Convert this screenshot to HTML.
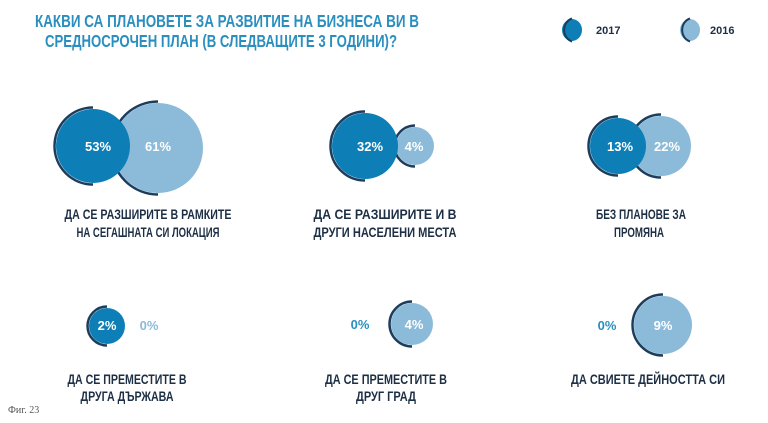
<!DOCTYPE html>
<html><head><meta charset="utf-8"><style>
html,body{margin:0;padding:0;background:#fff;}
svg{display:block;}
text{font-family:"Liberation Sans Narrow","Liberation Sans","DejaVu Sans Condensed",sans-serif;font-weight:bold;}
.v{fill:#fff;font-size:13px;text-anchor:middle;}
.l{fill:#1d2f45;font-size:13.5px;text-anchor:middle;}
</style></head><body>
<svg width="768" height="423" viewBox="0 0 768 423" xmlns="http://www.w3.org/2000/svg">
<g fill="#2a8fbf" font-size="17.5" text-anchor="middle">
<text x="227" y="27" textLength="384" lengthAdjust="spacingAndGlyphs">КАКВИ СА ПЛАНОВЕТЕ ЗА РАЗВИТИЕ НА БИЗНЕСА ВИ В</text>
<text x="221" y="47" textLength="352" lengthAdjust="spacingAndGlyphs">СРЕДНОСРОЧЕН ПЛАН (В СЛЕДВАЩИТЕ 3 ГОДИНИ)?</text>
</g>
<!-- legend -->
<ellipse cx="572" cy="30" rx="10" ry="11" fill="#0d7fb6"/>
<path d="M572 18.5 A11 12 0 0 0 572 41.5" fill="none" stroke="#1d3d5c" stroke-width="2"/>
<text x="596" y="34" font-size="11" fill="#1d2f45">2017</text>
<ellipse cx="690" cy="30" rx="10" ry="11" fill="#8bbbd9"/>
<path d="M690 18.5 A11 12 0 0 0 690 41.5" fill="none" stroke="#1d3d5c" stroke-width="2"/>
<text x="710" y="34" font-size="11" fill="#1d2f45">2016</text>

<g fill="none" stroke="#1d3d5c" stroke-width="2.5">
<circle cx="158" cy="148" r="45" fill="#8bbbd9" stroke="none"/>
<path d="M158 101.5 A46.5 46.5 0 0 0 158 194.5"/>
<circle cx="93" cy="146" r="37" fill="#0d7fb6" stroke="none"/>
<path d="M93 107.5 A38.5 38.5 0 0 0 93 184.5"/>
<circle cx="415" cy="146" r="19" fill="#8bbbd9" stroke="none"/>
<path d="M415 125.5 A20.5 20.5 0 0 0 415 166.5"/>
<circle cx="365" cy="146" r="33" fill="#0d7fb6" stroke="none"/>
<path d="M365 111.5 A34.5 34.5 0 0 0 365 180.5"/>
<circle cx="661" cy="146" r="30" fill="#8bbbd9" stroke="none"/>
<path d="M661 114.5 A31.5 31.5 0 0 0 661 177.5"/>
<circle cx="618" cy="146" r="28" fill="#0d7fb6" stroke="none"/>
<path d="M618 116.5 A29.5 29.5 0 0 0 618 175.5"/>
<circle cx="107" cy="326" r="18" fill="#0d7fb6" stroke="none"/>
<path d="M107 306.5 A19.5 19.5 0 0 0 107 345.5"/>
<circle cx="412" cy="324" r="21" fill="#8bbbd9" stroke="none"/>
<path d="M412 301.5 A22.5 22.5 0 0 0 412 346.5"/>
<circle cx="663" cy="325" r="29" fill="#8bbbd9" stroke="none"/>
<path d="M663 294.5 A30.5 30.5 0 0 0 663 355.5"/>
</g>

<text class="v" x="98" y="151">53%</text>
<text class="v" x="158" y="151">61%</text>
<text class="v" x="370" y="151">32%</text>
<text class="v" x="414" y="151">4%</text>
<text class="v" x="620" y="151">13%</text>
<text class="v" x="667" y="151">22%</text>
<text class="v" x="107" y="330">2%</text>
<text class="v" x="149" y="330" style="fill:#8bbbd9">0%</text>
<text class="v" x="360" y="329" style="fill:#2a8fbf">0%</text>
<text class="v" x="414" y="329">4%</text>
<text class="v" x="607" y="330" style="fill:#2a8fbf">0%</text>
<text class="v" x="663" y="330">9%</text>

<text class="l" x="148" y="219" textLength="167" lengthAdjust="spacingAndGlyphs">ДА СЕ РАЗШИРИТЕ В РАМКИТЕ</text>
<text class="l" x="148" y="237" textLength="143" lengthAdjust="spacingAndGlyphs">НА СЕГАШНАТА СИ ЛОКАЦИЯ</text>
<text class="l" x="385" y="219" textLength="143" lengthAdjust="spacingAndGlyphs">ДА СЕ РАЗШИРИТЕ И В</text>
<text class="l" x="385" y="237" textLength="143" lengthAdjust="spacingAndGlyphs">ДРУГИ НАСЕЛЕНИ МЕСТА</text>
<text class="l" x="641" y="219" textLength="90" lengthAdjust="spacingAndGlyphs">БЕЗ ПЛАНОВЕ ЗА</text>
<text class="l" x="639" y="237" textLength="50" lengthAdjust="spacingAndGlyphs">ПРОМЯНА</text>
<text class="l" x="127" y="384" textLength="119" lengthAdjust="spacingAndGlyphs">ДА СЕ ПРЕМЕСТИТЕ В</text>
<text class="l" x="127" y="401" textLength="93" lengthAdjust="spacingAndGlyphs">ДРУГА ДЪРЖАВА</text>
<text class="l" x="386" y="384" textLength="122" lengthAdjust="spacingAndGlyphs">ДА СЕ ПРЕМЕСТИТЕ В</text>
<text class="l" x="386" y="401" textLength="60" lengthAdjust="spacingAndGlyphs">ДРУГ ГРАД</text>
<text class="l" x="648" y="384" textLength="154" lengthAdjust="spacingAndGlyphs">ДА СВИЕТЕ ДЕЙНОСТТА СИ</text>

<text x="8" y="413" font-size="10" fill="#555" style="font-family:'Liberation Serif',serif;font-weight:normal">Фиг. 23</text>
</svg>
</body></html>
